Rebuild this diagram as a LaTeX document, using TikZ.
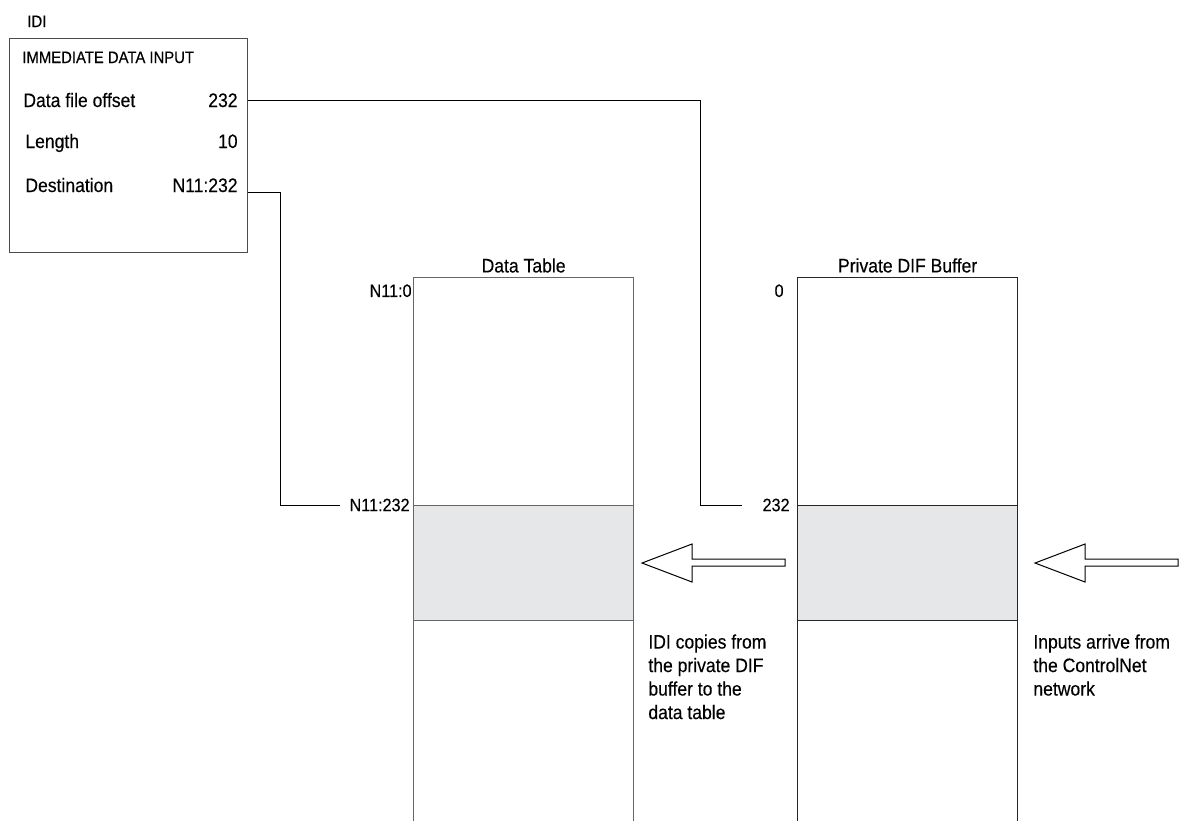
\documentclass[tikz,border=0pt]{standalone}
\usepackage{fontspec}
\setmainfont{Liberation Sans}[FakeStretch=0.9, FakeBold=0.25]
\usetikzlibrary{positioning}
\definecolor{bandgray}{HTML}{E6E7E8}
\tikzstyle{wire} = [line width=0.5pt, black]
\tikzstyle{lbl} = [inner sep=0pt, font=\fontsize{9.75}{11.75}\selectfont]
\tikzstyle{small} = [inner sep=0pt, font=\fontsize{8.25}{10}\selectfont]
\tikzstyle{tag} = [inner sep=0pt, font=\fontsize{9}{11}\selectfont]
\tikzstyle{memory} = [draw, line width=0.6pt, minimum width=110pt, minimum height=300pt, inner sep=0pt, anchor=north west]
\tikzstyle{band} = [draw, fill=bandgray, line width=0.6pt, minimum width=110pt, minimum height=57.5pt, inner sep=0pt, anchor=north west]
\tikzstyle{hollow} = [draw, fill=white, line width=0.5pt, line join=miter]

\begin{document}
\begin{tikzpicture}[x=0.5pt, y=-0.5pt]
  \useasboundingbox (0,0) rectangle (1186,820);

  % IDI instruction block
  \node[small, anchor=base west] (idilbl) at (27,27) {IDI};
  \node[draw=black!70, line width=0.6pt, minimum width=119pt, minimum height=107pt,
        anchor=north west] (idi) at (9,38) {};
  \node[small, anchor=base west] (idihead) at (22,63) {IMMEDIATE DATA INPUT};
  \node[lbl, anchor=base west] (offtxt) at (23,107) {Data file offset};
  \node[lbl, anchor=base east] (offval) at (238,107) {232};
  \node[lbl, anchor=base west] (lentxt) at (25,148) {Length};
  \node[lbl, anchor=base east] (lenval) at (238,148) {10};
  \node[lbl, anchor=base west] (dsttxt) at (25,192) {Destination};
  \node[lbl, anchor=base east] (dstval) at (238,192) {N11:232};

  % Data table and private buffer
  \node[memory, draw=black!60] (dt) at (413,277) {};
  \node[memory, draw=black!85] (buf) at (797,277) {};
  \node[band, draw=black!60] (dtsel) at (413,505) {};
  \node[band, draw=black!85] (bufsel) at (797,505) {};
  \node[lbl, inner sep=1pt, above=1pt of dt] (dttitle) {Data Table};
  \node[lbl, inner sep=1pt, above=1pt of buf] (buftitle) {Private DIF Buffer};

  % Word addresses
  \node[tag, anchor=north east] (n0) at ([xshift=-0.5pt, yshift=-3.5pt]dt.north west) {N11:0};
  \node[tag, anchor=north east] (b0) at ([xshift=-6.5pt, yshift=-3.5pt]buf.north west) {0};
  \node[tag, anchor=east] (n232) at ([xshift=-1.5pt]dtsel.north west) {N11:232};
  \node[tag, anchor=east] (b232) at ([xshift=-3.5pt]bufsel.north west) {232};

  % Operand connectors
  \draw[wire] (idi.east |- offval) -- ++(452,0) |- ([xshift=-10pt]b232.west);
  \draw[wire] (idi.east |- dstval.south) -- ++(32,0) |- ([xshift=-4.5pt]n232.west);

  % Data flow
  \foreach \tx/\ex in {642/785, 1035/1178}
    \draw[hollow] (\tx,563) -- (\tx+50,544) -- (\tx+50,559) -- (\ex,559)
      -- (\ex,566) -- (\tx+50,566) -- (\tx+50,582) -- cycle;

  \node[lbl, anchor=north west, align=left] (copynote) at (648,634)
    {IDI copies from\\the private DIF\\buffer to the\\data table};
  \node[lbl, anchor=north west, align=left] (innote) at (1033,634)
    {Inputs arrive from\\the ControlNet\\network};
\end{tikzpicture}
\end{document}
